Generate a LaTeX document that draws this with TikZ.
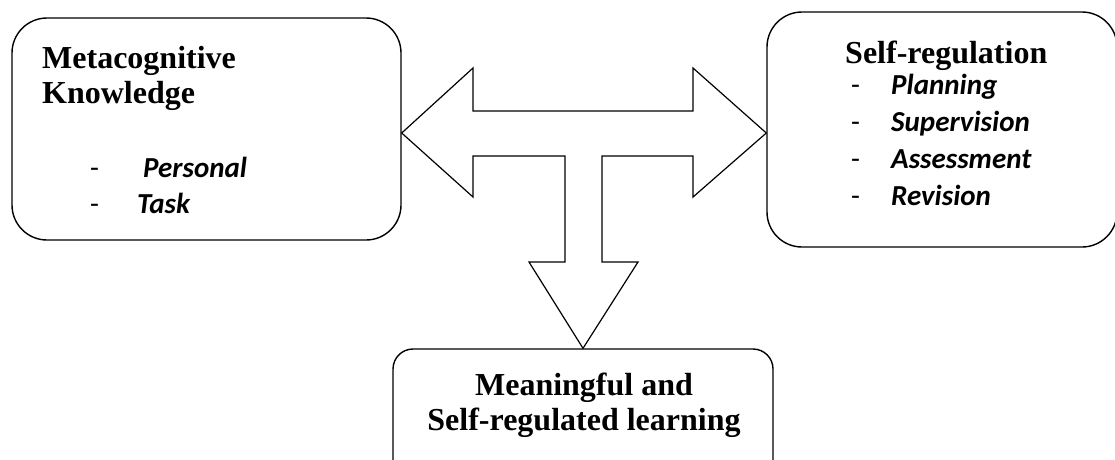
\documentclass[tikz,border=0pt]{standalone}
\usepackage{fontspec}
\setmainfont{Liberation Serif}
\newfontfamily\calib{Carlito}
\begin{document}
\begin{tikzpicture}[x=1pt,y=-1pt,
  box/.style={draw, line width=1.4pt, rounded corners=#1, inner sep=0pt},
  title/.style={font=\fontsize{32}{36}\selectfont\bfseries, inner sep=0pt, anchor=base west},
  item/.style={font=\fontsize{29}{32}\selectfont\calib\bfseries\itshape, inner sep=0pt, anchor=base west},
  dashmark/.style={font=\fontsize{29}{32}\selectfont\calib, inner sep=0pt, anchor=base west},
  bigarrow/.style={draw, line width=1.2pt, line join=miter, fill=white}]
\useasboundingbox (0,0) rectangle (1115,459);
\clip (0,0) rectangle (1115,459);
% boxes
\node[box=35pt, minimum width=389pt, minimum height=222pt] (mk) at (206.5,129) {};
\node[box=35pt, minimum width=350pt, minimum height=235pt] (sr) at (942,129.5) {};
\node[box=20pt, minimum width=380pt, minimum height=140pt] (ml) at (583,419) {};
% T-shaped arrow
\draw[bigarrow] (mk.east |- 0,133) -- (473,68) -- (473,111) -- (693,111) -- (693,68)
  -- (sr.west |- 0,133) -- (693,197) -- (693,156) -- (602,156) -- (602,262)
  -- (638,262) -- (ml.north) -- (529,262) -- (565,262) -- (565,156)
  -- (473,156) -- (473,197) -- cycle;
% left texts
\node[title] (t1) at (42,68) {Metacognitive};
\node[title] (t2) at (42,103) {Knowledge};
\node[dashmark] (d1) at (90,177) {-};
\node[item] (p1) at (143,177) {Personal};
\node[dashmark] (d2) at (90,213) {-};
\node[item] (p2) at (137,213) {Task};
% right texts
\node[title] (t3) at (845,63) {Self-regulation};
\node[dashmark] (d3) at (851,94) {-};
\node[item] (r1) at (891,94) {Planning};
\node[dashmark] (d4) at (851,131) {-};
\node[item] (r2) at (891,131) {Supervision};
\node[dashmark] (d5) at (851,168) {-};
\node[item] (r3) at (891,168) {Assessment};
\node[dashmark] (d6) at (851,205) {-};
\node[item] (r4) at (891,205) {Revision};
% bottom texts
\node[title, anchor=base] (b1) at (584,395) {Meaningful and};
\node[title, anchor=base] (b2) at (584,430) {Self-regulated learning};
\end{tikzpicture}
\end{document}
